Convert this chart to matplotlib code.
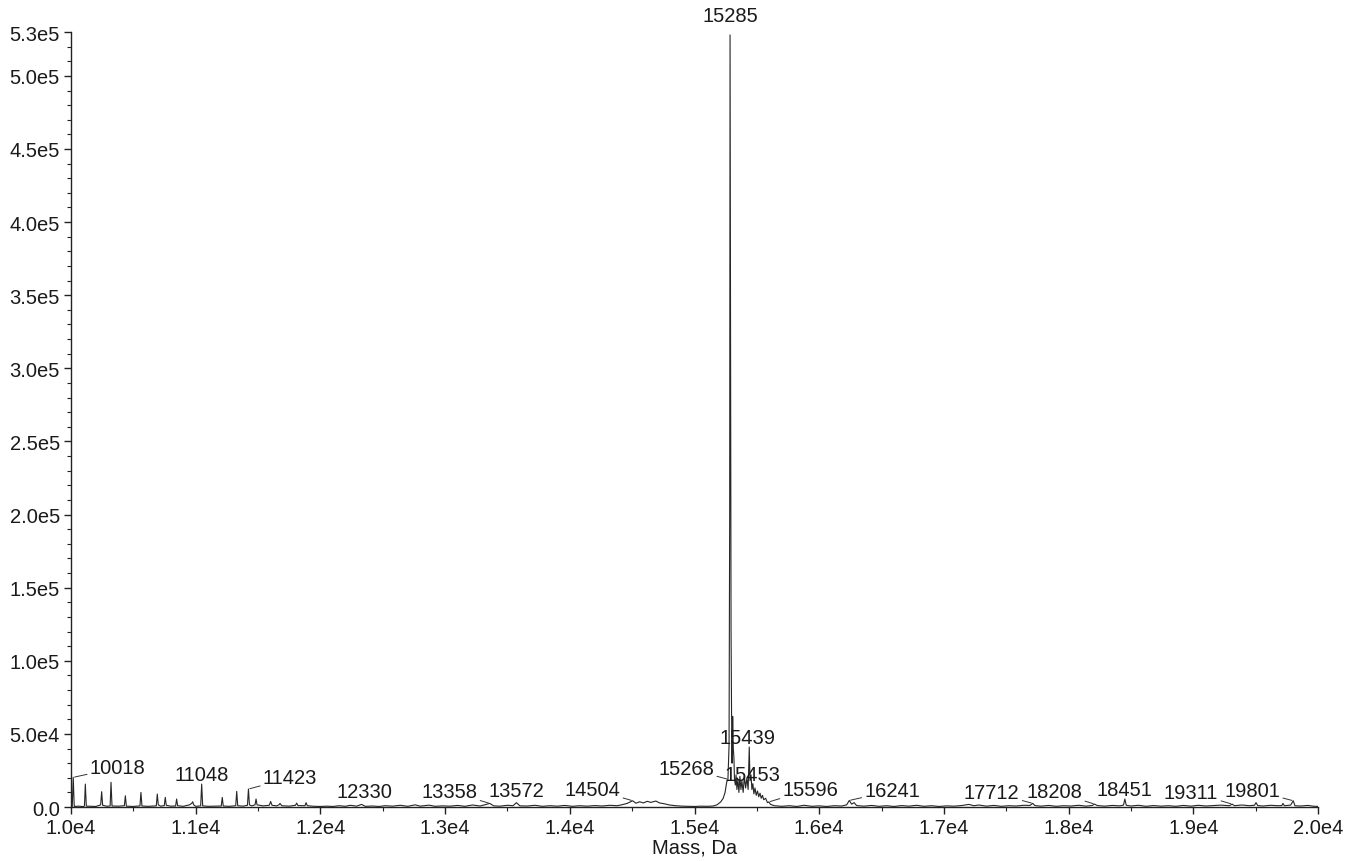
import numpy as np
import matplotlib
matplotlib.use("Agg")
import matplotlib.pyplot as plt
from matplotlib.ticker import MultipleLocator, FixedLocator

plt.rcParams['font.family'] = ['Liberation Sans', 'DejaVu Sans']

# spectrum (mass in Da, intensity in counts)
mass = [
    10000, 10010, 10018, 10026, 10060, 10100, 10108, 10115, 10123, 10160,
    10200, 10238, 10246, 10254, 10290, 10314, 10321, 10329, 10380, 10428,
    10436, 10444, 10500, 10553, 10561, 10569, 10620, 10684, 10692, 10700,
    10720, 10748, 10756, 10764, 10800, 10839, 10847, 10855, 10900, 10950,
    10968, 10976, 10984, 11000, 11040, 11048, 11056, 11100, 11150, 11205,
    11213, 11221, 11270, 11321, 11329, 11337, 11380, 11415, 11423, 11431,
    11450, 11476, 11484, 11492, 11540, 11590, 11601, 11612, 11650, 11668,
    11676, 11690, 11750, 11800, 11810, 11820, 11876, 11885, 11895, 11950,
    12000, 12050, 12100, 12150, 12200, 12240, 12290, 12330, 12360, 12420,
    12470, 12520, 12580, 12640, 12700, 12760, 12800, 12870, 12920, 12980,
    13040, 13100, 13160, 13220, 13280, 13330, 13358, 13390, 13440, 13500,
    13545, 13572, 13600, 13660, 13720, 13780, 13840, 13900, 13960, 14020,
    14080, 14140, 14200, 14260, 14320, 14380, 14420, 14460, 14504, 14530,
    14560, 14590, 14620, 14650, 14690, 14720, 14760, 14800, 14850, 14900,
    14950, 15000, 15050, 15100, 15150, 15180, 15210, 15230, 15245, 15258,
    15268, 15277, 15282, 15285, 15289, 15293, 15297, 15301, 15306, 15311,
    15316, 15320, 15327, 15333, 15340, 15348, 15356, 15364, 15372, 15380,
    15390, 15400, 15410, 15420, 15430, 15439, 15445, 15453, 15460, 15468,
    15476, 15485, 15495, 15505, 15515, 15525, 15535, 15545, 15555, 15570,
    15585, 15596, 15610, 15640, 15700, 15760, 15820, 15880, 15940, 16000,
    16060, 16120, 16180, 16220, 16241, 16260, 16280, 16300, 16360, 16420,
    16480, 16540, 16600, 16660, 16720, 16780, 16840, 16900, 16960, 17020,
    17080, 17140, 17200, 17240, 17280, 17340, 17400, 17460, 17520, 17580,
    17640, 17690, 17712, 17730, 17780, 17840, 17900, 17960, 18020, 18080,
    18140, 18190, 18208, 18230, 18290, 18350, 18410, 18440, 18451, 18462,
    18500, 18560, 18620, 18680, 18740, 18800, 18860, 18920, 18980, 19040,
    19100, 19160, 19220, 19290, 19311, 19330, 19390, 19450, 19490, 19503,
    19516, 19560, 19620, 19680, 19710, 19719, 19730, 19780, 19801, 19815,
    19860, 19920, 19960, 20000,
]
intensity = [
    0, 300, 20300, 400, 600, 300, 800, 15700, 600, 500,
    400, 1500, 10500, 1200, 500, 800, 16900, 700, 600, 900,
    7700, 600, 400, 800, 10000, 700, 500, 800, 8900, 1500,
    600, 1000, 6600, 1200, 600, 700, 5500, 900, 500, 1500,
    2500, 3600, 1500, 500, 800, 15700, 800, 500, 600, 700,
    6600, 700, 500, 900, 10700, 900, 600, 1200, 12300, 1500,
    800, 1500, 5500, 1500, 800, 1200, 3800, 1200, 800, 1500,
    2500, 900, 600, 1200, 2700, 1000, 900, 3000, 900, 500,
    400, 600, 400, 900, 500, 1200, 600, 1800, 500, 700,
    400, 900, 600, 1200, 500, 1500, 600, 1300, 500, 800,
    600, 1100, 500, 1400, 700, 1800, 2500, 800, 600, 1200,
    900, 3000, 800, 700, 1200, 500, 900, 600, 1100, 500,
    900, 600, 1000, 700, 1200, 900, 1600, 2500, 4300, 2600,
    3600, 2800, 3900, 3200, 4100, 2800, 2200, 1400, 900, 600,
    500, 400, 600, 500, 700, 1500, 3500, 6000, 10000, 17000,
    19000, 42000, 200000, 528000, 300000, 120000, 65000, 30000, 62000, 40000,
    34000, 20000, 15000, 22000, 12000, 19000, 10000, 21000, 12000, 18000,
    10000, 21000, 13000, 20000, 12000, 41000, 18000, 22000, 12000, 16000,
    9000, 13000, 8000, 11000, 7000, 9500, 6000, 8000, 5000, 6000,
    3000, 3500, 1800, 900, 500, 900, 400, 1200, 500, 800,
    400, 900, 700, 1500, 4500, 2000, 3000, 1000, 600, 1100,
    500, 900, 400, 1000, 600, 1200, 500, 900, 400, 800,
    600, 1000, 1800, 900, 1400, 600, 1100, 500, 900, 700,
    1200, 1100, 2500, 1000, 600, 1100, 500, 900, 700, 1200,
    600, 1100, 2000, 1000, 600, 1100, 800, 1300, 5500, 1200,
    700, 1200, 500, 1000, 600, 900, 500, 1100, 600, 1200,
    700, 1000, 1300, 900, 2000, 900, 1400, 900, 1200, 3000,
    1000, 700, 1200, 900, 1000, 2500, 900, 1300, 4300, 900,
    700, 1100, 600, 400,
]

# labelled peaks
peak_labels = ["10018", "11048", "11423", "12330", "13358", "13572", "14504",
               "15268", "15285", "15439", "15453", "15596", "16241", "17712",
               "18208", "18451", "19311", "19801"]
peak_mass = [10018, 11048, 11423, 12330, 13358, 13572, 14504,
             15268, 15285, 15439, 15453, 15596, 16241, 17712,
             18208, 18451, 19311, 19801]
peak_int = [20300, 15700, 12300, 1800, 2500, 3000, 4300,
            19000, 528000, 41000, 22000, 3500, 4500, 2500,
            2000, 5500, 2000, 4300]

# label placement (offset of text centre from peak, in points) and leader flag
label_offset = [(32, 7), (0, 7), (30, 8), (2, 9), (-29, 8.6), (0, 8.4), (-29, 8.4),
                (-30, 8), (0, 14), (-1, 7), (1, 0), (30, 9), (31, 7), (-29.5, 8),
                (-29, 9), (0, 7), (-29.5, 8.6), (-29.5, 7.7)]
label_leader = [True, False, True, False, True, False, True,
                True, False, False, False, True, True, True,
                True, False, True, True]

y_ticks = [0, 5e4, 1e5, 1.5e5, 2e5, 2.5e5, 3e5, 3.5e5, 4e5, 4.5e5, 5e5, 5.3e5]
y_ticklabels = ["0.0", "5.0e4", "1.0e5", "1.5e5", "2.0e5", "2.5e5", "3.0e5",
                "3.5e5", "4.0e5", "4.5e5", "5.0e5", "5.3e5"]
x_ticks = [10000, 11000, 12000, 13000, 14000, 15000, 16000, 17000, 18000, 19000, 20000]
x_ticklabels = ["1.0e4", "1.1e4", "1.2e4", "1.3e4", "1.4e4", "1.5e4",
                "1.6e4", "1.7e4", "1.8e4", "1.9e4", "2.0e4"]

fig = plt.figure(figsize=(13.47, 8.62), dpi=100)
ax = fig.add_axes([0.0527, 0.0626, 0.9258, 0.8991])

ax.plot(mass, intensity, color="#262626", lw=0.8)

fs = 14.5
txt_color = "#1a1a1a"
for lab, m, h, off, lead in zip(peak_labels, peak_mass, peak_int, label_offset, label_leader):
    arrow = dict(arrowstyle="-", color="#333333", lw=0.7, shrinkA=0, shrinkB=1) if lead else None
    ax.annotate(lab, xy=(m, h), xytext=off, textcoords="offset points",
                ha="center", va="center", fontsize=fs, color=txt_color,
                arrowprops=arrow, annotation_clip=False)

ax.set_xlim(10000, 20000)
ax.set_ylim(0, 5.3e5)
ax.xaxis.set_major_locator(FixedLocator(x_ticks))
ax.set_xticklabels(x_ticklabels)
ax.xaxis.set_minor_locator(MultipleLocator(500))
ax.yaxis.set_major_locator(FixedLocator(y_ticks))
ax.set_yticklabels(y_ticklabels)
ax.yaxis.set_minor_locator(MultipleLocator(1e4))

for s in ["top", "right"]:
    ax.spines[s].set_visible(False)
for s in ["left", "bottom"]:
    ax.spines[s].set_color("#222222")
    ax.spines[s].set_linewidth(1.0)

ax.tick_params(axis="both", which="major", length=5, width=1, color="#222222",
               labelsize=fs, labelcolor=txt_color, pad=3)
ax.tick_params(axis="both", which="minor", length=3, width=0.8, color="#222222")

ax.set_xlabel("Mass, Da", fontsize=fs, color=txt_color, labelpad=0)

fig.savefig("out.png", dpi=100)
